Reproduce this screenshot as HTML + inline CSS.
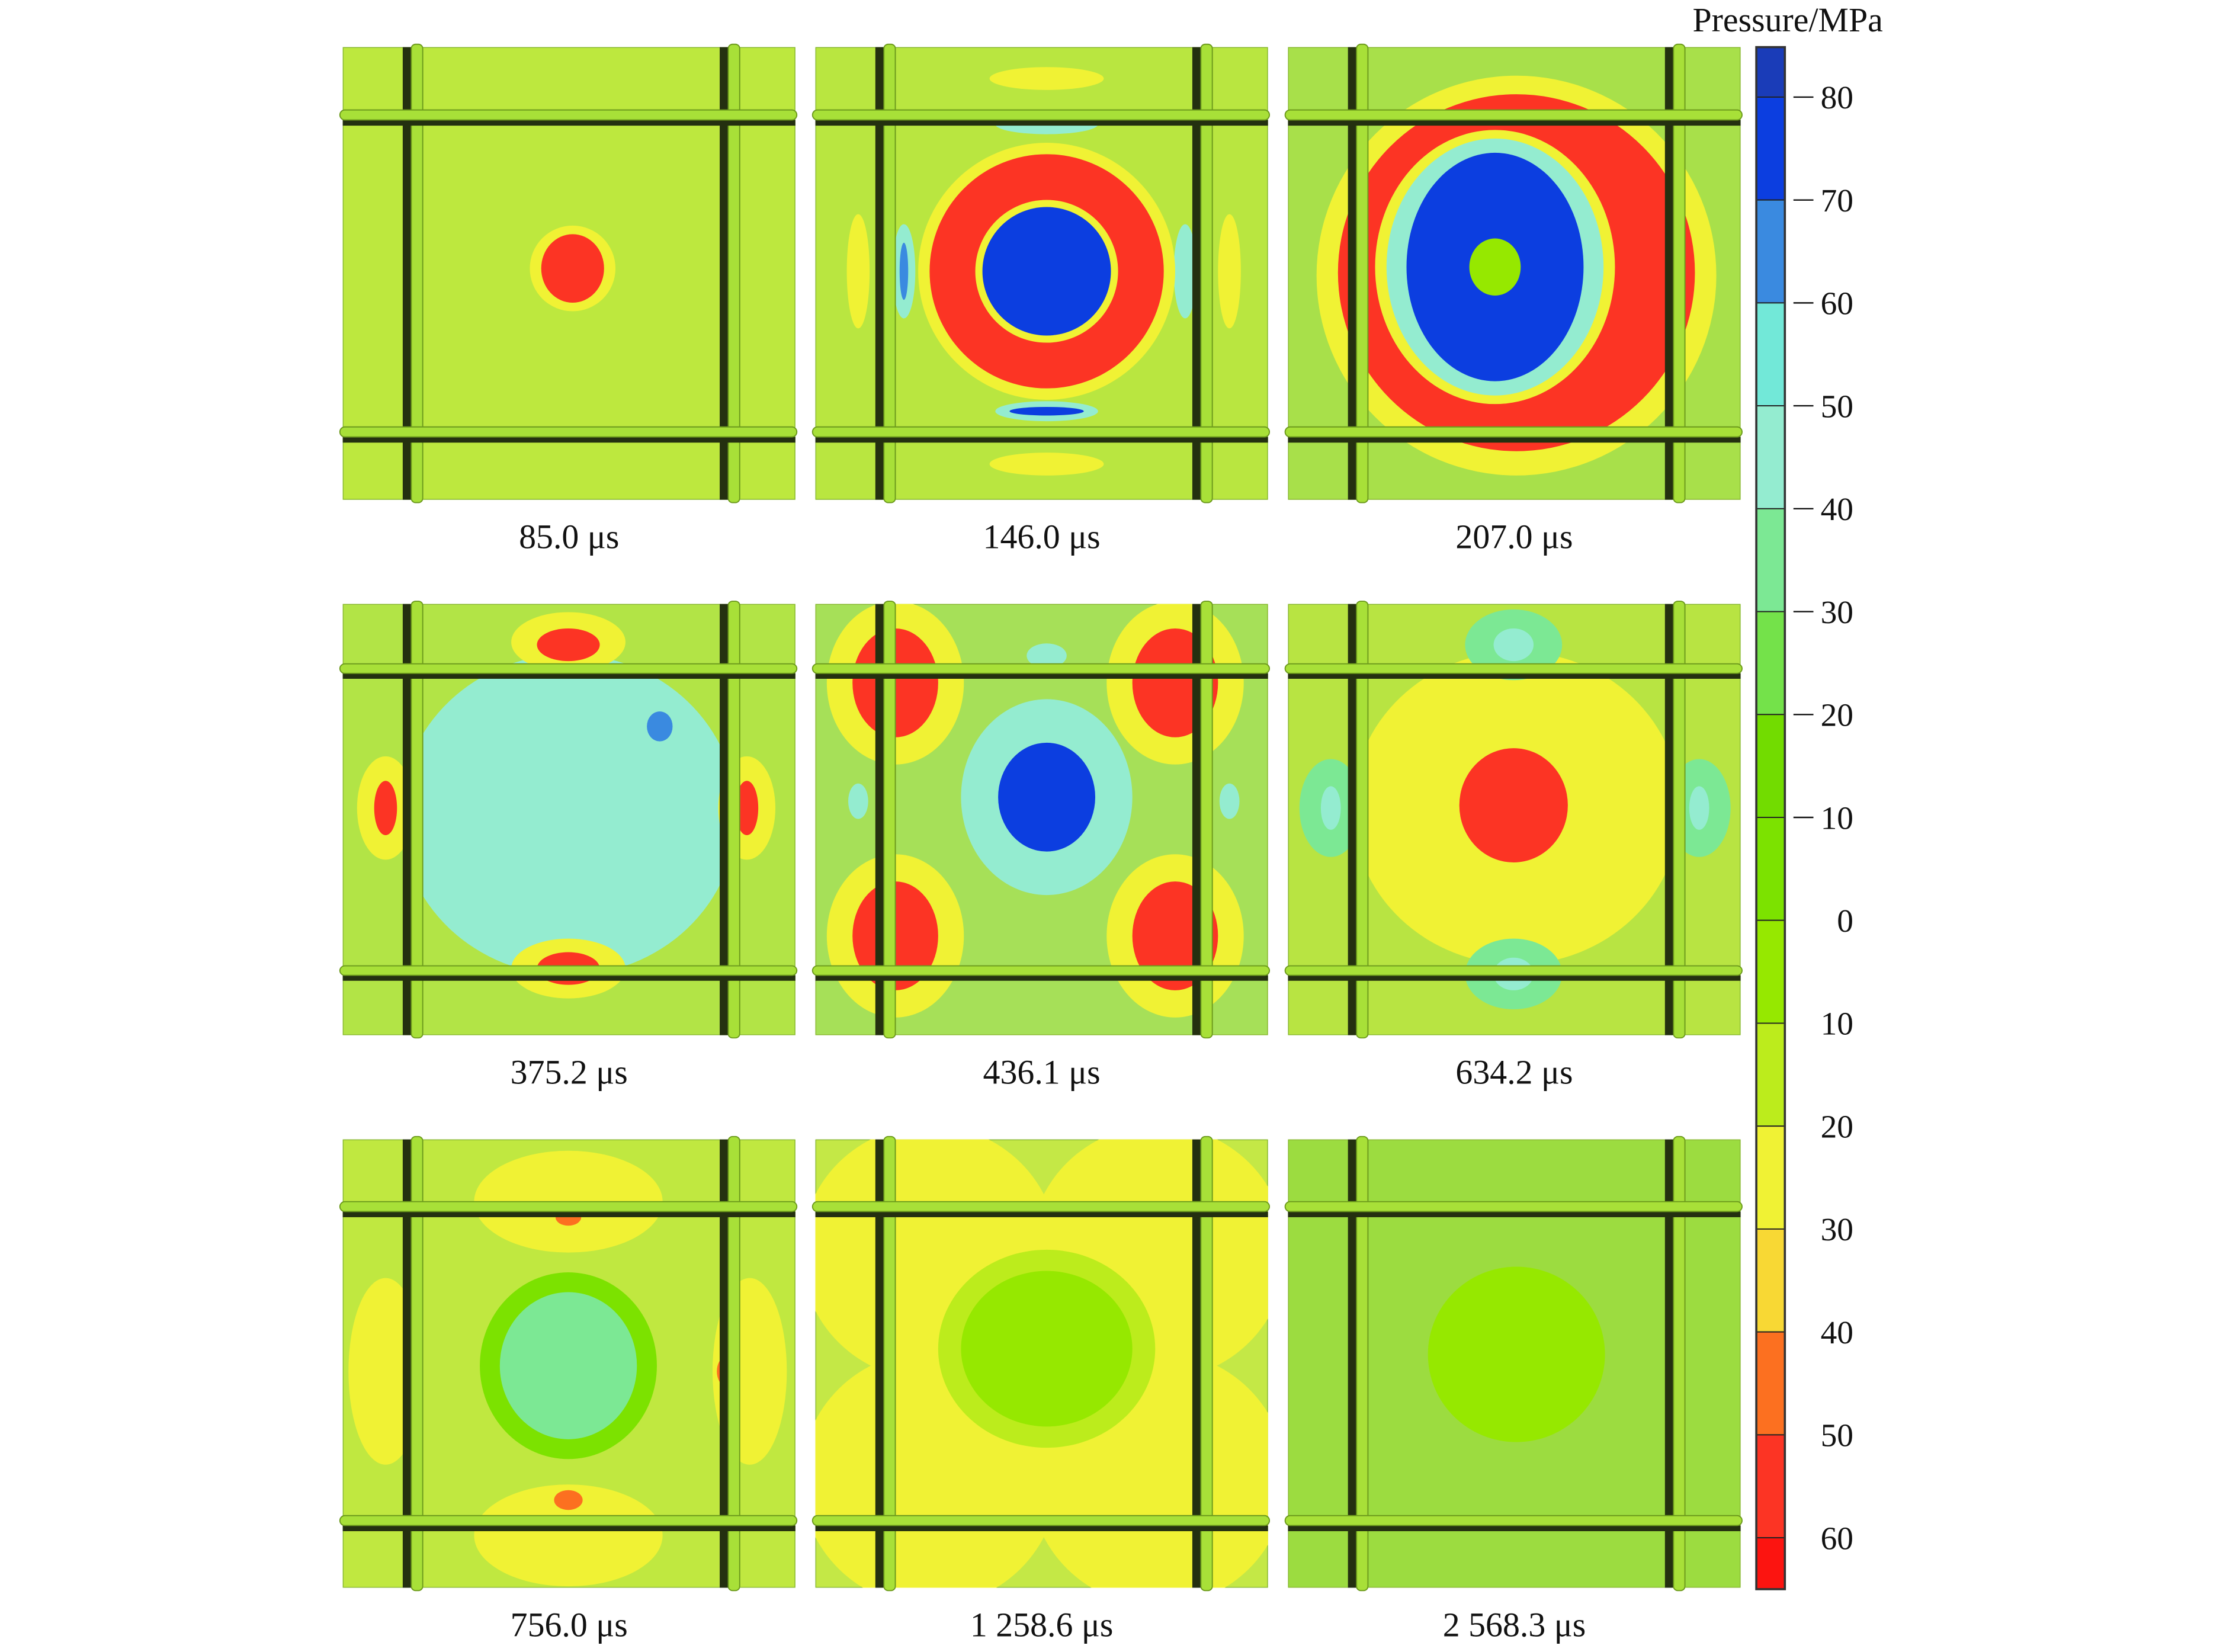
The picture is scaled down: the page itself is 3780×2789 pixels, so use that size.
<!DOCTYPE html>
<html><head><meta charset="utf-8"><style>
html,body{margin:0;padding:0;background:#fff;}
svg{display:block;}
text{font-family:"Liberation Serif",serif;fill:#111;}
</style></head><body>
<svg id="fig" width="3780" height="2789" viewBox="0 0 1568 1157" xmlns="http://www.w3.org/2000/svg"></svg>
<script>
// ---- data ----
const timeLabels = ["85.0 \u03bcs","146.0 \u03bcs","207.0 \u03bcs","375.2 \u03bcs","436.1 \u03bcs","634.2 \u03bcs","756.0 \u03bcs","1 258.6 \u03bcs","2 568.3 \u03bcs"];
const cbarTickValues = [-80,-70,-60,-50,-40,-30,-20,-10,0,10,20,30,40,50,60];
const cbarTickLabels = ["80","70","60","50","40","30","20","10","0","10","20","30","40","50","60"];
const cbarColors = ["#1a3cb8","#0c3ee0","#3a8ae0","#72e8d8","#94ecd0","#7ce894","#74e24a","#72dc00","#7ce200","#96e800","#bcec1c","#f0f234","#f8d834","#fc7020","#fc3424","#fc1410"];
const bgColors = ["#bde83e","#b9e640","#a8e04a","#b2e446","#a6e058","#b8e442","#c0e840","#c4e846","#9cdc40"];
// blobs per panel: [cx, cy, rx, ry, colorIndex]  (panel-relative units, 317x317)
const blobs = [
 [[161,155,30,30,11],[161,155,22,24,14]],
 [[30,157,8,40,11],[290,157,8,40,11],[162,22,40,8,11],[162,292,40,8,11],[62,157,8,33,4],[259,157,8,33,4],[62,157,3,20,2],[162,54,36,7,4],[162,255,36,7,4],[162,255,26,3,1],[162,157,90,90,11],[162,157,82,82,14],[162,157,50,50,11],[162,157,45,45,1]],
 [[160,160,140,140,11],[160,158,125,125,14],[145,154,84,96,11],[145,154,76,90,4],[145,154,62,80,1],[145,154,18,20,9]],
 [[158,155,118,118,4],[158,28,40,22,11],[158,268,40,22,11],[30,150,20,38,11],[283,150,20,38,11],[158,30,22,12,14],[158,268,22,12,14],[30,150,8,20,14],[283,150,8,20,14],[222,90,9,11,2]],
 [[56,58,48,60,11],[252,58,48,60,11],[56,244,48,60,11],[252,244,48,60,11],[56,58,30,40,14],[252,58,30,40,14],[56,244,30,40,14],[252,244,30,40,14],[162,142,60,72,4],[162,142,34,40,1],[162,38,14,9,4],[30,145,7,13,4],[290,145,7,13,4]],
 [[160,150,115,115,11],[158,148,38,42,14],[158,30,34,26,5],[158,272,34,26,5],[30,150,22,36,5],[288,150,22,36,5],[158,30,14,12,4],[158,272,14,12,4],[30,150,7,16,4],[288,150,7,16,4]],
 [[158,44,66,36,11],[158,280,66,36,11],[30,164,26,66,11],[285,164,26,66,11],[158,55,9,6,13],[158,255,10,7,13],[50,164,6,10,13],[268,164,6,10,13],[158,160,62,66,8],[158,160,48,52,5]],
 [[80,80,90,90,11],[240,80,90,90,11],[80,240,90,90,11],[240,240,90,90,11],[162,148,76,70,10],[162,148,60,55,9]],
 [[160,152,62,62,9]]
];
const cols = [240, 571, 902];
const rowsY = [33, 423, 798];
const rowsH = [317, 302, 314];

const svg = document.getElementById('fig');
const NS = 'http://www.w3.org/2000/svg';
function mk(tag, attrs, parent){const e=document.createElementNS(NS,tag);for(const k in attrs)e.setAttribute(k,attrs[k]);(parent||svg).appendChild(e);return e;}

// ---- panels ----
for(let i=0;i<9;i++){
  const c=i%3, r=Math.floor(i/3);
  const x0=cols[c], y0=rowsY[r], w=317, h=rowsH[r], sy=h/317;
  const g=mk('g',{transform:`translate(${x0},${y0}) scale(1,${sy})`});
  
  
  const clipId='clip'+i;
  const cp=mk('clipPath',{id:clipId},g);
  mk('rect',{x:0,y:0,width:317,height:317},cp);
  const field=mk('g',{'clip-path':`url(#${clipId})`},g);
  const bg=mk('rect',{x:0,y:0,width:317,height:317,fill:bgColors[i],stroke:'#88b830','stroke-width':1.2},field);
  
  
  for(const b of blobs[i]){
    const el=mk('ellipse',{cx:b[0],cy:b[1],rx:b[2],ry:b[3],fill:cbarColors[b[4]]},field);
    
    
  }
  for(const vx of [48,270]){
    const sh=mk('rect',{x:vx-6,y:0,width:7,height:317,fill:'#243010'},g);
    
    
    const rod=mk('rect',{x:vx,y:-2,width:8,height:321,rx:3,fill:'#a8e038',stroke:'#6c9a1c','stroke-width':0.8},g);
    
    
  }
  for(const hy of [44,266]){
    const sh=mk('rect',{x:0,y:hy+7,width:317,height:4,fill:'#243010'},g);
    
    
    const rod=mk('rect',{x:-2,y:hy,width:320,height:7,rx:3.5,fill:'#a8e038',stroke:'#6c9a1c','stroke-width':0.8},g);
    
    
  }
  const t=mk('text',{x:x0+w/2,y:y0+h+34,'text-anchor':'middle','font-size':24});
  t.textContent=timeLabels[i];
  
  
}

// ---- colorbar ----
const cbX=1230, cbW=20, cbTop=33, cbBot=1113;
const yTop=68, step=72.07;
function yOf(v){return yTop+(v-cbarTickValues[0])/10*step;}
const bounds=[cbTop].concat(cbarTickValues.map(yOf)).concat([cbBot]);
for(let k=0;k<cbarColors.length;k++){
  const rr=mk('rect',{x:cbX,y:bounds[k],width:cbW,height:bounds[k+1]-bounds[k],fill:cbarColors[k],stroke:'#222','stroke-width':0.8});
  
  
}
const frame=mk('rect',{x:cbX,y:cbTop,width:cbW,height:cbBot-cbTop,fill:'none',stroke:'#333','stroke-width':1.5});


cbarTickValues.forEach((v,k)=>{
  const y=yOf(v);
  if(v<0){
    const tk=mk('line',{x1:1256,x2:1270,y1:y,y2:y,stroke:'#111','stroke-width':1});
    
    
  }
  const tl=mk('text',{x:1298,y:y+8,'text-anchor':'end','font-size':23});
  tl.textContent=cbarTickLabels[k];
  
  
});
const title=mk('text',{x:1252,y:22,'text-anchor':'middle','font-size':24});
title.textContent='Pressure/MPa';


</script>
</body></html>
